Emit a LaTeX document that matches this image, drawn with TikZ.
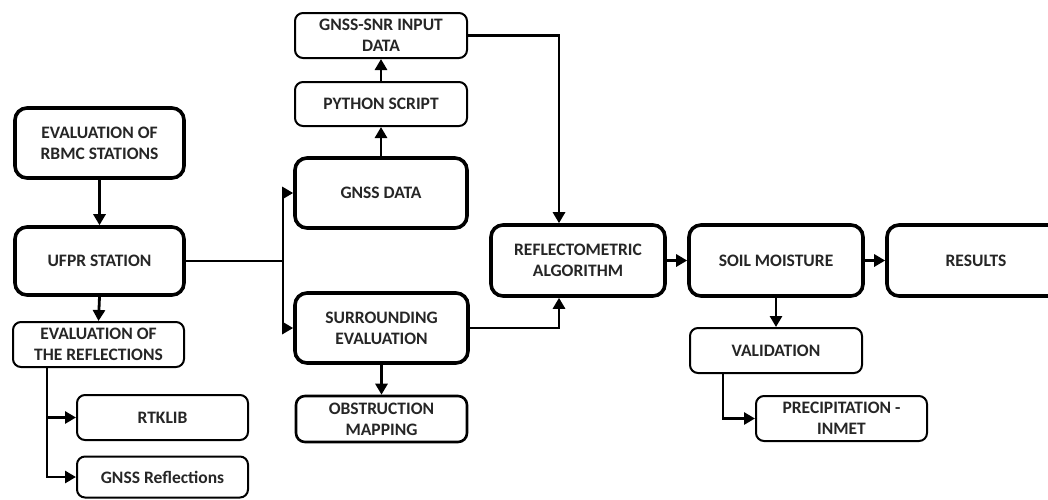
\documentclass[tikz,border=0pt]{standalone}
\usepackage{fontspec}
\setmainfont{Carlito}
\usetikzlibrary{arrows.meta}
\begin{document}
\begin{tikzpicture}[x=1pt,y=-1pt,
  box/.style={draw=black,rounded corners=10pt,align=center,inner sep=0pt,
    font=\fontsize{17.5}{21}\selectfont\bfseries,text=black!85,fill=white},
  thickbox/.style={box,line width=3.6pt,rounded corners=12pt},
  thinbox/.style={box,line width=2pt,rounded corners=8pt},
  midbox/.style={box,line width=2.6pt,rounded corners=9pt},
  conn/.style={line width=2.8pt},
  arr/.style={conn,-{Triangle[length=11pt,width=12pt]}}]
\useasboundingbox (0,0) rectangle (1048,499);
% nodes
\node[thickbox,minimum width=169pt,minimum height=70pt] (rbmc) at (99.5,143) {EVALUATION OF\\RBMC STATIONS};
\node[thickbox,minimum width=169pt,minimum height=68pt] (ufpr) at (99.5,261) {UFPR STATION};
\node[thinbox,minimum width=171pt,minimum height=45pt] (evref) at (98.5,344.5) {EVALUATION OF\\THE REFLECTIONS};
\node[thinbox,minimum width=171pt,minimum height=45pt] (rtk) at (162.5,417.5) {RTKLIB};
\node[thinbox,minimum width=171pt,minimum height=41pt] (gnssr) at (162.5,477) {GNSS Reflections};
\node[thickbox,minimum width=172pt,minimum height=70pt] (gnssd) at (381,193) {GNSS DATA};
\node[thinbox,minimum width=172pt,minimum height=44pt] (py) at (381,104) {PYTHON SCRIPT};
\node[thinbox,minimum width=172pt,minimum height=45pt] (snr) at (381,35.5) {GNSS-SNR INPUT\\DATA};
\node[thickbox,minimum width=173pt,minimum height=70pt] (sur) at (381.5,328) {SURROUNDING\\EVALUATION};
\node[midbox,minimum width=171pt,minimum height=46pt] (obs) at (381.5,419) {OBSTRUCTION\\MAPPING};
\node[thickbox,minimum width=174pt,minimum height=71pt] (refl) at (578,260.5) {REFLECTOMETRIC\\ALGORITHM};
\node[thickbox,minimum width=174pt,minimum height=71pt] (soil) at (776,260.5) {SOIL MOISTURE};
\node[thickbox,minimum width=178pt,minimum height=71pt] (res) at (976,260.5) {RESULTS};
\node[thinbox,minimum width=172pt,minimum height=45pt] (val) at (776,350.5) {VALIDATION};
\node[thinbox,minimum width=171pt,minimum height=45pt] (prec) at (841.5,418.5) {PRECIPITATION -\\INMET};
\coordinate (j) at (283,261);
% connectors
\draw[arr] (rbmc.south) -- (ufpr.north);
\draw[arr] (ufpr.south) -- (evref.north);
\draw[arr] ([xshift=-51.5pt]evref.south) |- (rtk.west);
\draw[arr] ([xshift=-51.5pt]evref.south) |- (gnssr.west);
\draw[conn,line cap=rect] (ufpr.east) -- (j);
\draw[arr] (j) |- (gnssd.west);
\draw[arr] (j) |- (sur.west);
\draw[arr] (gnssd.north) -- (py.south);
\draw[arr] (py.north) -- (snr.south);
\draw[arr] (snr.east) -| ([xshift=-19pt]refl.north);
\draw[arr] (sur.east) -| ([xshift=-19pt]refl.south);
\draw[arr] (sur.south) -- (obs.north);
\draw[arr] (refl.east) -- (soil.west);
\draw[arr] (soil.east) -- (res.west);
\draw[arr] (soil.south) -- (val.north);
\draw[arr] ([xshift=-53pt]val.south) |- (prec.west);
\end{tikzpicture}
\end{document}
